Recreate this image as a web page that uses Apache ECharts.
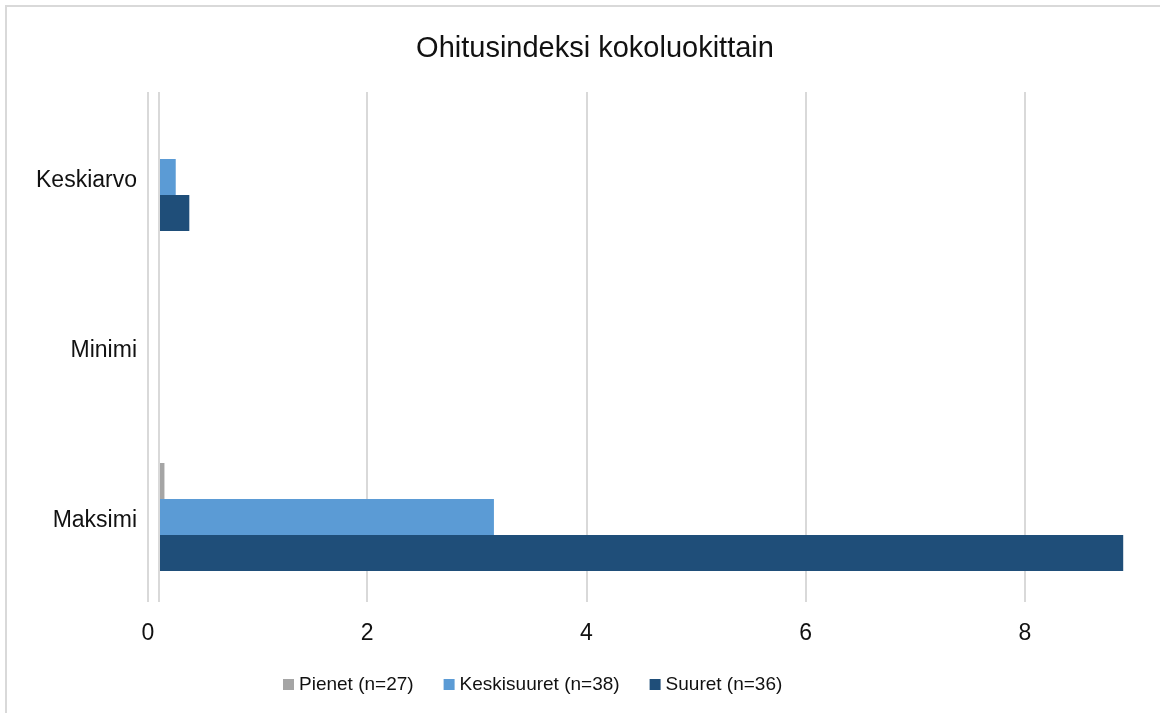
<!DOCTYPE html>
<html>
<head>
<meta charset="utf-8">
<script src="https://cdn.jsdelivr.net/npm/echarts@6/dist/echarts.min.js"></script>
<style>
  html, body { margin: 0; padding: 0; background: #fff; }
  #chart { width: 1160px; height: 713px; }
</style>
</head>
<body>
<div id="chart"></div>
<script>
// kategoriat ylhäältä alas
const categories = ["Keskiarvo", "Minimi", "Maksimi"];
const seriesNames = ["Pienet (n=27)", "Keskisuuret (n=38)", "Suuret (n=36)"];
const pienet = [0.1, 0.1, 0.15];
const keskisuuret = [0.253, 0.1, 3.156];
const suuret = [0.377, 0.1, 8.897];
const xTicks = [0, 2, 4, 6, 8];
// pystyakseli leikkaa vaaka-akselin tässä arvossa (palkit alkavat siitä)
const axisCross = 0.1;

const colors = ["#a5a5a5", "#5b9bd5", "#1f4e79"];
const font = "'Liberation Sans', Arial, sans-serif";

const chart = echarts.init(document.getElementById("chart"));

const values = [pienet, keskisuuret, suuret];
const series = [];
values.forEach((vals, i) => {
  // näkymätön pohja, jotta palkki alkaa akselin leikkauskohdasta
  series.push({
    type: "bar",
    name: "base" + i,
    stack: "s" + i,
    barWidth: 36,
    barGap: 0,
    silent: true,
    itemStyle: { color: "transparent" },
    data: categories.map(() => axisCross),
    markLine: i === 0 ? {
      silent: true,
      symbol: "none",
      label: { show: false },
      lineStyle: { color: "#d9d9d9", width: 2, type: "solid" },
      data: [{ xAxis: axisCross }],
    } : undefined,
  });
  series.push({
    type: "bar",
    name: seriesNames[i],
    stack: "s" + i,
    barWidth: 36,
    barGap: 0,
    itemStyle: { color: colors[i] },
    data: vals.map((v) => v - axisCross),
  });
});

chart.setOption({
  animation: false,
  color: colors,
  title: {
    text: "Ohitusindeksi kokoluokittain",
    left: 590,
    textAlign: "center",
    top: 29,
    textStyle: { fontFamily: font, fontSize: 29, fontWeight: "normal", color: "#111" },
  },
  graphic: [{
    type: "rect",
    shape: { x: 6, y: 6, width: 1200, height: 760 },
    style: { fill: "none", stroke: "#d9d9d9", lineWidth: 2 },
    silent: true,
    z: -10,
  }],
  legend: {
    data: seriesNames,
    left: 278,
    top: 670,
    itemWidth: 11,
    itemHeight: 11,
    itemGap: 30,
    icon: "rect",
    textStyle: { fontFamily: font, fontSize: 19, color: "#111" },
  },
  grid: { left: 148, right: 25.5, top: 92, bottom: 111 },
  xAxis: {
    type: "value",
    min: xTicks[0],
    max: 9,
    interval: xTicks[1] - xTicks[0],
    axisLine: { show: false },
    axisTick: { show: false },
    axisLabel: {
      margin: 20,
      showMaxLabel: false,
      fontFamily: font,
      fontSize: 23,
      color: "#111",
    },
    splitLine: { show: true, showMaxLine: false, lineStyle: { color: "#d9d9d9", width: 2 } },
  },
  yAxis: {
    type: "category",
    inverse: true,
    data: categories,
    axisLine: { show: false },
    axisTick: { show: false },
    axisLabel: {
      margin: 11,
      formatter: "{a|{value}}",
      rich: {
        a: { padding: [8, 0, 0, 0], fontFamily: font, fontSize: 23, color: "#111" },
      },
    },
  },
  series: series,
});
</script>
</body>
</html>
